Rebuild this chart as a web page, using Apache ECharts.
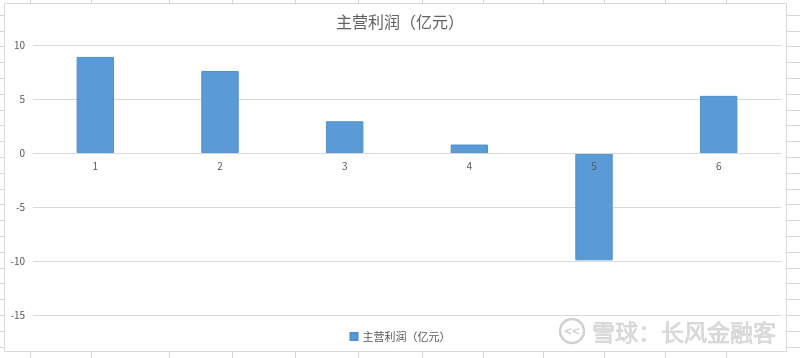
<!DOCTYPE html>
<html>
<head>
<meta charset="utf-8">
<script src="https://cdn.jsdelivr.net/npm/echarts@6/dist/echarts.min.js"></script>
<style>
html,body{margin:0;padding:0;}
body{width:800px;height:358px;position:relative;overflow:hidden;background:#fff;
background-image:repeating-linear-gradient(to bottom, transparent 0px, transparent 14.8px, #d6d6d6 14.8px, #d6d6d6 15.8px);}
.vl{position:absolute;top:0;width:1px;height:358px;background:#d6d6d6;}
#chart{position:absolute;left:0;top:0;width:800px;height:358px;}
</style>
</head>
<body>
<div id="chart"></div>
<script>
// Data
const categories = ['1', '2', '3', '4', '5', '6'];
const profitValues = [8.9, 7.6, 2.95, 0.8, -9.9, 5.3];
const seriesName = '主营利润（亿元）';
const chartTitle = '主营利润（亿元）';
const yTicks = [-15, -10, -5, 0, 5, 10];
const watermarkText = '雪球：长风金融客';

// spreadsheet column lines behind chart
const colLines = [30, 91, 169, 232, 295, 358, 422, 483, 543, 604, 665, 726];
colLines.forEach(function (x) {
  const d = document.createElement('div');
  d.className = 'vl';
  d.style.left = x + 'px';
  document.body.insertBefore(d, document.getElementById('chart'));
});

const font = "'Noto Sans CJK SC', 'Microsoft YaHei', sans-serif";
const chart = echarts.init(document.getElementById('chart'), null, {renderer: 'canvas'});
chart.setOption({
  backgroundColor: 'transparent',
  animation: false,
  title: {
    text: chartTitle,
    left: 'center',
    top: 9,
    textStyle: {fontSize: 16, fontWeight: 'normal', color: '#626262', fontFamily: font}
  },
  legend: {
    data: [seriesName],
    bottom: 11,
    left: 'center',
    icon: 'rect',
    itemWidth: 7,
    itemHeight: 7,
    itemGap: 4,
    textStyle: {fontSize: 11, color: '#595959', fontFamily: font}
  },
  grid: {left: 33, right: 19, top: 45, bottom: 42.5, containLabel: false},
  xAxis: {
    type: 'category',
    data: categories,
    z: 10,
    axisLine: {onZero: false, lineStyle: {color: '#d9d9d9', width: 1}},
    axisTick: {show: false},
    axisLabel: {fontSize: 10, color: '#595959', margin: 8, fontFamily: font}
  },
  yAxis: {
    type: 'value',
    min: yTicks[0],
    max: yTicks[yTicks.length - 1],
    interval: 5,
    axisLine: {show: false},
    axisTick: {show: false},
    splitLine: {lineStyle: {color: '#d9d9d9', width: 1}},
    axisLabel: {fontSize: 10, color: '#595959', margin: 8, fontFamily: font}
  },
  series: [{
    name: seriesName,
    type: 'bar',
    data: profitValues,
    barWidth: '30%',
    itemStyle: {color: '#5b9bd5', borderColor: '#4d8fcf', borderWidth: 1}
  }],
  graphic: [
    {
      type: 'rect', z: -10, silent: true,
      shape: {x: 4.5, y: 3.5, width: 782, height: 348},
      style: {fill: '#ffffff', stroke: '#d9d9d9', lineWidth: 1}
    },
    {
      type: 'group', z: 100, silent: true,
      children: [
        {type: 'circle', shape: {cx: 572, cy: 331, r: 12}, style: {fill: 'none', stroke: '#d0d0d0', lineWidth: 2.5}},
        {type: 'text', x: 572, y: 331, style: {text: '<<', font: 'bold 13px ' + font, fill: '#d0d0d0', align: 'center', verticalAlign: 'middle'}},
        {type: 'text', x: 592, y: 332, style: {text: watermarkText, font: '23px ' + font, fill: '#dadada', stroke: '#c4c4c4', lineWidth: 0.6, align: 'left', verticalAlign: 'middle'}}
      ]
    }
  ]
});
// move the category axis (line and labels) to the zero value using the library's scale
const zeroY = chart.convertToPixel({yAxisIndex: 0}, 0);
const minY = chart.convertToPixel({yAxisIndex: 0}, yTicks[0]);
chart.setOption({xAxis: {offset: -(minY - zeroY)}});
</script>
</body>
</html>
